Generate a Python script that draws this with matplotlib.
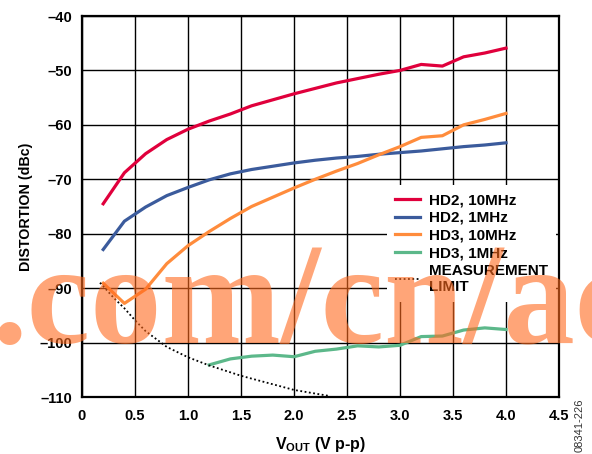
import matplotlib
matplotlib.use("Agg")
import matplotlib.pyplot as plt

plt.rcParams['font.family'] = ['Liberation Sans', 'DejaVu Sans']
plt.rcParams['font.weight'] = 'bold'
plt.rcParams['mathtext.fontset'] = 'custom'
plt.rcParams['mathtext.rm'] = 'Liberation Sans:bold'
plt.rcParams['mathtext.it'] = 'Liberation Sans:bold'
plt.rcParams['mathtext.bf'] = 'Liberation Sans:bold'

# Salida en V p-p
vout = [0.2, 0.4, 0.6, 0.8, 1.0, 1.2, 1.4, 1.6, 1.8, 2.0,
        2.2, 2.4, 2.6, 2.8, 3.0, 3.2, 3.4, 3.6, 3.8, 4.0]
hd2_10mhz = [-74.5, -68.8, -65.3, -62.7, -60.8, -59.3, -58.0, -56.5, -55.4, -54.3,
             -53.3, -52.3, -51.5, -50.7, -50.0, -48.9, -49.2, -47.5, -46.8, -45.9]
hd2_1mhz = [-82.9, -77.7, -75.1, -73.0, -71.5, -70.1, -69.0, -68.2, -67.6, -67.0,
            -66.5, -66.1, -65.8, -65.4, -65.1, -64.8, -64.4, -64.0, -63.7, -63.3]
hd3_10mhz = [-89.1, -92.8, -90.2, -85.5, -82.2, -79.6, -77.2, -75.0, -73.3, -71.6,
             -70.0, -68.5, -67.1, -65.5, -64.0, -62.3, -62.0, -60.0, -59.0, -57.9]

vout_hd3_1mhz = [1.2, 1.4, 1.6, 1.8, 2.0, 2.2, 2.4, 2.6, 2.8, 3.0, 3.2, 3.4, 3.6, 3.8, 4.0]
hd3_1mhz = [-104.1, -103.0, -102.5, -102.3, -102.6, -101.6, -101.2, -100.6, -100.8,
            -100.5, -98.9, -98.8, -97.7, -97.3, -97.6]

# Limite de medicion
vout_lim = [0.17, 0.3, 0.4, 0.5, 0.6, 0.8, 1.0, 1.2, 1.5, 2.0, 2.33]
limite = [-89.0, -91.8, -93.7, -95.9, -97.9, -100.8, -102.7, -104.2, -106.1, -108.7, -109.8]

xticks = [0, 0.5, 1.0, 1.5, 2.0, 2.5, 3.0, 3.5, 4.0, 4.5]
xlabels = ['0', '0.5', '1.0', '1.5', '2.0', '2.5', '3.0', '3.5', '4.0', '4.5']
yticks = [-110, -100, -90, -80, -70, -60, -50, -40]
ylabels = ['–110', '–100', '–90', '–80', '–70', '–60', '–50', '–40']

fig = plt.figure(figsize=(5.92, 4.54), dpi=100)
ax = fig.add_axes([82/592, 57/454, 477/592, 381/454])

ax.plot(vout, hd2_10mhz, color='#e0003c', lw=2.3, label='HD2, 10MHz', zorder=3)
ax.plot(vout, hd2_1mhz, color='#3b5b9c', lw=2.3, label='HD2, 1MHz', zorder=3)
ax.plot(vout, hd3_10mhz, color='#ff8c3c', lw=2.3, label='HD3, 10MHz', zorder=3)
ax.plot(vout_hd3_1mhz, hd3_1mhz, color='#5cb88a', lw=2.3, label='HD3, 1MHz', zorder=3)
ax.plot(vout_lim, limite, color='black', lw=1.3, ls=(0, (1, 1.4)),
        label='MEASUREMENT\nLIMIT', zorder=3)

ax.set_xlim(0, 4.5)
ax.set_ylim(-110, -40)
ax.set_xticks(xticks)
ax.set_xticklabels(xlabels)
ax.set_yticks(yticks)
ax.set_yticklabels(ylabels)
ax.tick_params(length=0, labelsize=10.5)
ax.tick_params(axis='x', pad=9)
ax.tick_params(axis='y', pad=7)
ax.grid(True, color='black', lw=1.0, zorder=1)
ax.set_axisbelow(True)
for s in ax.spines.values():
    s.set_linewidth(1.6)

ax.set_xlabel('$V_{OUT}$ (V p-p)', fontsize=11.5, fontweight='bold', labelpad=8)
ax.set_ylabel('DISTORTION (dBc)', fontsize=10.3, fontweight='bold', labelpad=5)

leg = ax.legend(loc='upper left', bbox_to_anchor=(0.639, 0.557), fontsize=11,
                frameon=True, framealpha=1, edgecolor='none', fancybox=False,
                handlelength=1.65, handletextpad=0.55, labelspacing=0.24,
                borderpad=0.55, borderaxespad=0)
leg.get_frame().set_facecolor('white')
leg.set_zorder(4)

fig.text(580/592, 1 - 398/454, '08341-226', rotation=90, fontsize=8,
         fontweight='normal', color='#333333', ha='center', va='top')

# marca de agua
fig.text(-8/592, 1 - 343/454, '.com/cn/ac', fontsize=103, family='Liberation Serif',
         fontweight='bold', color='#ff6a1e', alpha=0.6, ha='left', va='baseline',
         zorder=10)

fig.savefig('out.png', dpi=100)
